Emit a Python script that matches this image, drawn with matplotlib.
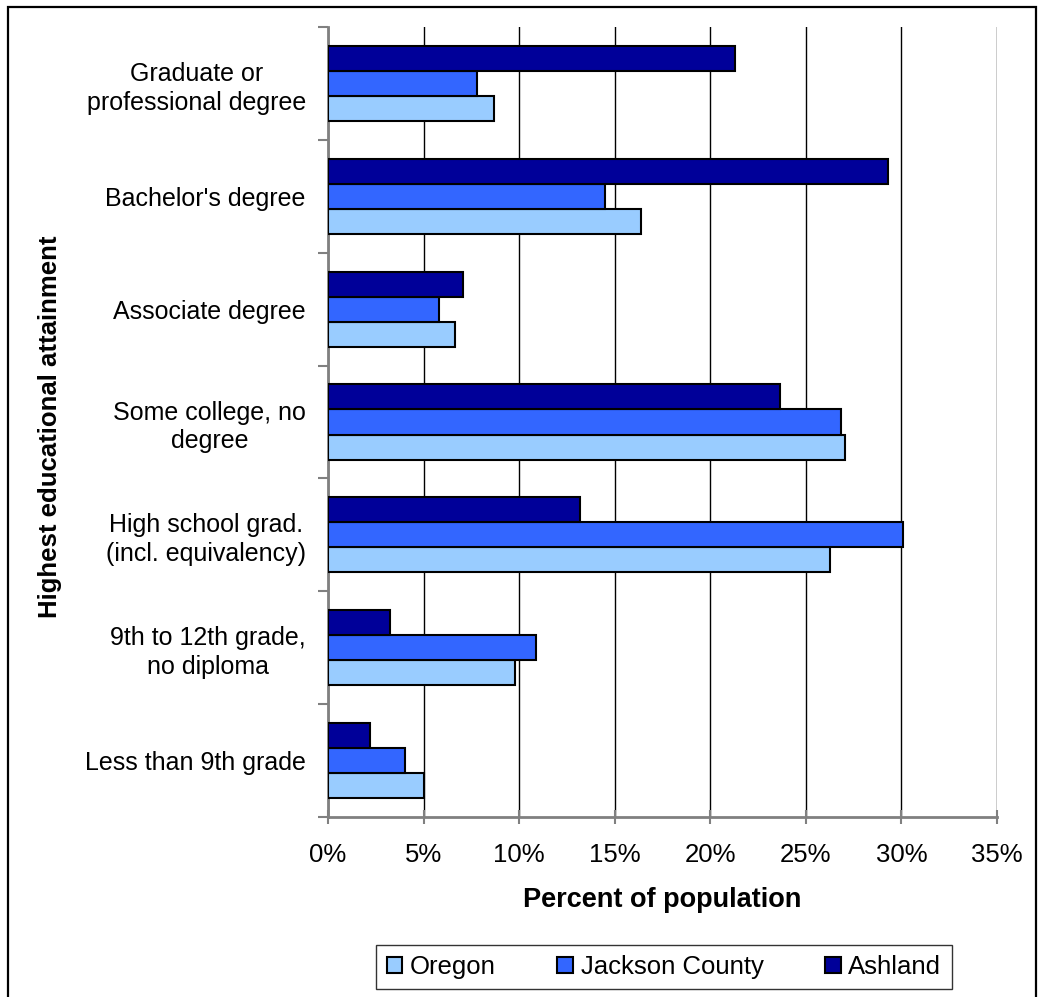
import matplotlib.pyplot as plt
from matplotlib.patches import Rectangle
import numpy as np

plt.rcParams['font.family'] = ['Liberation Sans', 'DejaVu Sans']

# education levels, top of chart first
categories = ['Graduate or\nprofessional degree', "Bachelor's degree", 'Associate degree',
              'Some college, no\ndegree', 'High school grad.\n(incl. equivalency)',
              '9th to 12th grade,\nno diploma', 'Less than 9th grade']

# percent of population 25+ by highest attainment
oregon = [8.7, 16.4, 6.65, 27.05, 26.25, 9.8, 5.0]
jackson = [7.8, 14.5, 5.8, 26.85, 30.1, 10.9, 4.05]
ashland = [21.3, 29.3, 7.05, 23.65, 13.2, 3.25, 2.2]

x_ticks = [0, 5, 10, 15, 20, 25, 30, 35]

fig = plt.figure(figsize=(10.44, 9.97), dpi=100)
ax = fig.add_axes([328 / 1044, 180 / 997, (997 - 328) / 1044, 790 / 997])

pos = np.arange(len(categories))[::-1]
h = 1 / 4.5
bar_kw = dict(height=h, edgecolor='black', linewidth=1.5, zorder=3)
ax.barh(pos - h, oregon, color='#99CCFF', label='Oregon', **bar_kw)
ax.barh(pos, jackson, color='#3366FF', label='Jackson County', **bar_kw)
ax.barh(pos + h, ashland, color='#000099', label='Ashland', **bar_kw)

ax.set_xlim(0, 35)
ax.set_ylim(-0.5, len(categories) - 0.5)

# vertical gridlines
ax.set_xticks(x_ticks)
ax.set_xticklabels([f'{t}%' for t in x_ticks], fontsize=18.5)
ax.grid(axis='x', color='black', linewidth=1, zorder=0)
ax.tick_params(axis='x', direction='inout', length=10, color='#808080', width=1.5, pad=14)

# category boundaries get tick marks, labels sit between them
ax.set_yticks(np.arange(-0.5, len(categories), 1))
ax.set_yticklabels([])
ax.set_yticks(pos, minor=True)
ax.set_yticklabels(categories, minor=True, fontsize=18, linespacing=1.25)
for lbl in ax.get_yticklabels(minor=True):
    lbl.set_multialignment('center')
ax.tick_params(axis='y', which='major', direction='out', length=7, color='#808080', width=1.5)
ax.tick_params(axis='y', which='minor', length=0, pad=16)

for side in ['top', 'right']:
    ax.spines[side].set_visible(False)
for side in ['left', 'bottom']:
    ax.spines[side].set_color('#808080')
    ax.spines[side].set_linewidth(2)

fig.text(50 / 1044, 1 - 427 / 997, 'Highest educational attainment', rotation=90,
         ha='center', va='center', fontsize=18.5, fontweight='bold')
fig.text(662 / 1044, 1 - 900 / 997, 'Percent of population',
         ha='center', va='center', fontsize=19.5, fontweight='bold')

leg = fig.legend(loc='center', bbox_to_anchor=(664 / 1044, 1 - 967 / 997), ncol=3,
                 fontsize=18.5, frameon=True, fancybox=False, edgecolor='black',
                 handlelength=0.6, handleheight=0.6, handletextpad=0.3,
                 columnspacing=2.4, borderpad=0.4, borderaxespad=0)
leg.get_frame().set_linewidth(1)

# chart border
fig.patches.append(Rectangle((8 / 1044, -0.01), (1036 - 8) / 1044, 1.01 - 7 / 997,
                             transform=fig.transFigure, fill=False,
                             edgecolor='black', linewidth=1.6))

fig.savefig('out.png', dpi=100)
